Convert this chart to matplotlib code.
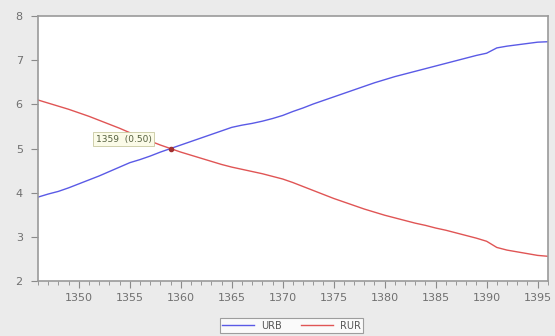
import matplotlib
matplotlib.use("Agg")
import matplotlib.pyplot as plt
from matplotlib.ticker import MultipleLocator

years = list(range(1346, 1397))
urb = [3.90, 3.97, 4.03, 4.11, 4.20, 4.29, 4.38, 4.48, 4.58, 4.68,
       4.75, 4.83, 4.92, 5.00, 5.08, 5.16, 5.24, 5.32, 5.40, 5.48,
       5.53, 5.57, 5.62, 5.68, 5.75, 5.84, 5.92, 6.01, 6.09, 6.17,
       6.25, 6.33, 6.41, 6.49, 6.56, 6.63, 6.69, 6.75, 6.81, 6.87,
       6.93, 6.99, 7.05, 7.11, 7.16, 7.28, 7.32, 7.35, 7.38, 7.41, 7.42]
rur = [6.10, 6.03, 5.96, 5.89, 5.81, 5.73, 5.64, 5.55, 5.46, 5.36,
       5.26, 5.17, 5.08, 5.00, 4.92, 4.85, 4.78, 4.71, 4.64, 4.58,
       4.53, 4.48, 4.43, 4.37, 4.31, 4.23, 4.14, 4.05, 3.96, 3.87,
       3.79, 3.71, 3.63, 3.56, 3.49, 3.43, 3.37, 3.31, 3.26, 3.20,
       3.15, 3.09, 3.03, 2.97, 2.90, 2.76, 2.70, 2.66, 2.62, 2.58, 2.56]
series_names = ["URB", "RUR"]
hover_year = 1359
hover_value = 5.00
hover_text = "1359  (0.50)"

fig = plt.figure(figsize=(5.55, 3.36), dpi=100, facecolor="#ebebeb")
ax = fig.add_axes([0.0685, 0.1637, 0.9185, 0.7883])
ax.set_facecolor("white")

ax.plot(years, urb, color="#5a5ae6", lw=1.0, label=series_names[0])
ax.plot(years, rur, color="#e05555", lw=1.0, label=series_names[1])
ax.plot([hover_year], [hover_value], "o", color="#a03030", ms=3)
ax.annotate(hover_text, (hover_year, hover_value), xytext=(-75, 7),
            textcoords="offset pixels", fontsize=6.5, color="#556040",
            bbox=dict(boxstyle="square,pad=0.25", fc="#fbfbe8", ec="#c8c8a0", lw=0.6))

ax.set_xlim(1346, 1396)
ax.set_ylim(2, 8)
ax.xaxis.set_minor_locator(MultipleLocator(1))
ax.yaxis.set_major_locator(MultipleLocator(1))
ax.set_xticks(range(1350, 1396, 5))

for s in ax.spines.values():
    s.set_color("#9a9a9a")
    s.set_linewidth(1.2)

ax.tick_params(axis="both", which="both", colors="#8a8a8a", labelcolor="#707070",
               labelsize=8)
ax.tick_params(axis="x", which="major", length=5, direction="out", pad=4)
ax.tick_params(axis="x", which="minor", length=3, direction="out")
ax.tick_params(axis="y", which="major", length=5, direction="out", pad=6)

leg = ax.legend(loc="upper center", bbox_to_anchor=(0.497, -0.122),
                ncol=2, fontsize=7, frameon=True, fancybox=False,
                handlelength=3.3, columnspacing=2.0, borderpad=0.25,
                handletextpad=0.7)
leg.get_frame().set_edgecolor("#888888")
leg.get_frame().set_linewidth(0.8)
for t in leg.get_texts():
    t.set_color("#555555")

fig.savefig("out.png", dpi=100, facecolor=fig.get_facecolor())
